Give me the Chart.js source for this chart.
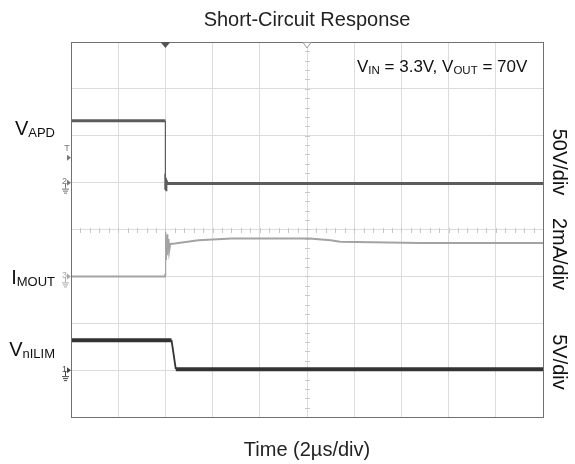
<!DOCTYPE html>
<html>
<head>
<meta charset="utf-8">
<script src="https://cdn.jsdelivr.net/npm/chart.js@4/dist/chart.umd.min.js"></script>
<style>
  html, body { margin: 0; padding: 0; background: #fff; }
  #wrap { width: 575px; height: 464px; position: relative; }
</style>
</head>
<body>
<div id="wrap"><canvas id="c"></canvas></div>
<script>
// Time axis in divisions (2 µs/div), vertical in divisions (0 = bottom, 8 = top)
const vapdX = [0, 2.0, 2.0, 2.01, 2.04, 10];
const vapdY = [6.32, 6.32, 4.85, 5.05, 4.98, 4.98];

const imoutX = [0, 1.99, 2.0, 2.005, 2.02, 2.035, 2.05, 2.065, 2.08, 2.1, 2.2, 2.7, 3.4, 5.05, 5.5, 5.7, 7.4, 10];
const imoutY = [3.0, 3.0, 3.05, 3.95, 3.35, 3.9, 3.45, 3.8, 3.55, 3.69, 3.70, 3.77, 3.81, 3.81, 3.77, 3.74, 3.71, 3.71];

const nilimX = [0, 2.13, 2.22, 10];
const nilimY = [1.64, 1.64, 1.02, 1.02];

// channel reference markers on the left edge (level in divisions)
const markerLabels = ['T', '2', '3', '1'];
const markerLevels = [5.53, 5.0, 3.0, 1.0];
const markerColors = ['#777', '#777', '#aaa', '#444'];

const triggerPos = 2;
const centerPos = 5;

const title = 'Short-Circuit Response';
const xLabel = 'Time (2\u00B5s/div)';
const scaleLabels = ['50V/div', '2mA/div', '5V/div'];

function pts(xs, ys) { return xs.map((x, i) => ({ x: x, y: ys[i] })); }

const FONT = '"Liberation Sans", Arial, sans-serif';

function drawSub(ctx, x, y, main, sub, mainSize, subSize, subDrop) {
  ctx.font = mainSize + 'px ' + FONT;
  ctx.fillText(main, x, y);
  const w = ctx.measureText(main).width;
  ctx.font = subSize + 'px ' + FONT;
  ctx.fillText(sub, x + w, y + subDrop);
  return w + ctx.measureText(sub).width;
}
function subWidth(ctx, main, sub, mainSize, subSize) {
  ctx.font = mainSize + 'px ' + FONT;
  const w = ctx.measureText(main).width;
  ctx.font = subSize + 'px ' + FONT;
  return w + ctx.measureText(sub).width;
}

// thin line on steep (edge) segments, thicker on flat noisy levels
function edgeWidth(thick, thin) {
  return (c) => {
    const dx = Math.abs(c.p1.parsed.x - c.p0.parsed.x);
    const dy = Math.abs(c.p1.parsed.y - c.p0.parsed.y);
    return (dy > 0.3 && dx < 0.1) ? thin : thick;
  };
}

const decor = {
  id: 'decor',
  beforeDatasetsDraw(chart) {
    const ctx = chart.ctx, xs = chart.scales.x, ys = chart.scales.y;
    ctx.save();
    // minor ticks on center lines
    ctx.strokeStyle = '#c8c8c8';
    ctx.lineWidth = 1;
    const cy = Math.round(ys.getPixelForValue(4)), cx = Math.round(xs.getPixelForValue(centerPos));
    for (let v = 0; v <= 10.001; v += 0.2) {
      const px = Math.round(xs.getPixelForValue(v)) + 0.5;
      ctx.beginPath(); ctx.moveTo(px, cy - 2); ctx.lineTo(px, cy + 3); ctx.stroke();
    }
    for (let v = 0; v <= 8.001; v += 0.2) {
      const py = Math.round(ys.getPixelForValue(v)) + 0.5;
      ctx.beginPath(); ctx.moveTo(cx - 2, py); ctx.lineTo(cx + 3, py); ctx.stroke();
    }
    ctx.restore();
  },
  afterDraw(chart) {
    const ctx = chart.ctx, xs = chart.scales.x, ys = chart.scales.y;
    const a = chart.chartArea;
    ctx.save();
    // frame
    ctx.strokeStyle = '#707070'; ctx.lineWidth = 1;
    ctx.strokeRect(Math.round(a.left) + 0.5, Math.round(a.top) + 0.5, Math.round(a.right - a.left), Math.round(a.bottom - a.top));

    // trigger position markers
    const tx = xs.getPixelForValue(triggerPos);
    ctx.fillStyle = '#555';
    ctx.beginPath(); ctx.moveTo(tx - 5, a.top); ctx.lineTo(tx + 5, a.top); ctx.lineTo(tx, a.top + 6); ctx.closePath(); ctx.fill();
    const hx = xs.getPixelForValue(centerPos);
    ctx.fillStyle = '#fff'; ctx.strokeStyle = '#999'; ctx.lineWidth = 1;
    ctx.beginPath(); ctx.moveTo(hx - 4, a.top + 0.5); ctx.lineTo(hx + 4, a.top + 0.5); ctx.lineTo(hx, a.top + 6); ctx.closePath(); ctx.fill(); ctx.stroke();

    // channel markers on left edge
    markerLabels.forEach((lab, i) => {
      const py = ys.getPixelForValue(markerLevels[i]);
      const col = markerColors[i];
      ctx.fillStyle = col; ctx.strokeStyle = col; ctx.lineWidth = 1;
      ctx.beginPath(); ctx.moveTo(a.left - 4, py - 3); ctx.lineTo(a.left, py); ctx.lineTo(a.left - 4, py + 3); ctx.closePath(); ctx.fill();
      ctx.font = '9px ' + FONT; ctx.textAlign = 'right'; ctx.textBaseline = 'middle';
      if (lab === 'T') {
        ctx.textAlign = 'center';
        ctx.fillText(lab, a.left - 4, py - 9);
      } else {
        ctx.fillText(lab, a.left - 4, py - 1);
        // ground symbol
        const gx = a.left - 6;
        ctx.beginPath();
        ctx.moveTo(gx + 0.5, py + 1); ctx.lineTo(gx + 0.5, py + 6);
        ctx.moveTo(gx - 3, py + 6.5); ctx.lineTo(gx + 4, py + 6.5);
        ctx.moveTo(gx - 2, py + 8.5); ctx.lineTo(gx + 3, py + 8.5);
        ctx.moveTo(gx - 1, py + 10.5); ctx.lineTo(gx + 2, py + 10.5);
        ctx.stroke();
      }
    });

    // title and x label
    ctx.fillStyle = '#222';
    ctx.textAlign = 'center'; ctx.textBaseline = 'alphabetic';
    const mid = (a.left + a.right) / 2;
    ctx.font = '20px ' + FONT;
    ctx.fillText(title, mid, 26);
    ctx.fillText(xLabel, mid, 456);

    // trace labels
    ctx.textAlign = 'left';
    ctx.fillStyle = '#111';
    let w = subWidth(ctx, 'V', 'APD', 20, 13);
    drawSub(ctx, 55 - w, 135, 'V', 'APD', 20, 13, 2);
    w = subWidth(ctx, 'I', 'MOUT', 20, 13);
    drawSub(ctx, 55 - w, 284, 'I', 'MOUT', 20, 13, 2);
    w = subWidth(ctx, 'V', 'nILIM', 20, 13);
    drawSub(ctx, 55 - w, 356, 'V', 'nILIM', 20, 13, 2);

    // annotation
    let x0 = 357;
    x0 += drawSub(ctx, x0, 72, 'V', 'IN', 17, 11.5, 2);
    ctx.font = '17px ' + FONT; ctx.fillText(' = 3.3V, ', x0, 72); x0 += ctx.measureText(' = 3.3V, ').width;
    x0 += drawSub(ctx, x0, 72, 'V', 'OUT', 17, 11.5, 2);
    ctx.font = '17px ' + FONT; ctx.fillText(' = 70V', x0, 72);

    // right rotated scale labels
    const centersY = [162, 254, 362];
    ctx.font = '20px ' + FONT; ctx.textAlign = 'center'; ctx.textBaseline = 'middle';
    scaleLabels.forEach((t, i) => {
      ctx.save();
      ctx.translate(559, centersY[i]);
      ctx.rotate(Math.PI / 2);
      ctx.fillText(t, 0, 0);
      ctx.restore();
    });
    ctx.restore();
  }
};

new Chart(document.getElementById('c'), {
  type: 'scatter',
  data: {
    datasets: [
      { label: 'VAPD', data: pts(vapdX, vapdY), showLine: true, borderColor: '#5c5c5c', borderWidth: 3, pointRadius: 0, tension: 0,
        segment: { borderWidth: edgeWidth(3, 1.2) } },
      { label: 'IMOUT', data: pts(imoutX, imoutY), showLine: true, borderColor: '#a3a3a3', borderWidth: 2, pointRadius: 0, tension: 0,
        segment: { borderWidth: edgeWidth(2, 1.2) } },
      { label: 'VnILIM', data: pts(nilimX, nilimY), showLine: true, borderColor: '#333', borderWidth: 4, pointRadius: 0, tension: 0,
        segment: { borderWidth: edgeWidth(4, 1.8) } }
    ]
  },
  options: {
    responsive: true,
    maintainAspectRatio: false,
    animation: false,
    devicePixelRatio: 1,
    layout: { padding: { left: 71, right: 32, top: 42, bottom: 47 } },
    plugins: { legend: { display: false }, tooltip: { enabled: false }, title: { display: false } },
    scales: {
      x: {
        type: 'linear', min: 0, max: 10,
        ticks: { display: false, stepSize: 1 },
        grid: { color: '#dcdcdc', lineWidth: 1, drawTicks: false },
        border: { display: true, color: '#707070', width: 1 }
      },
      y: {
        type: 'linear', min: 0, max: 8,
        ticks: { display: false, stepSize: 1 },
        grid: { color: '#dcdcdc', lineWidth: 1, drawTicks: false },
        border: { display: true, color: '#707070', width: 1 }
      }
    }
  },
  plugins: [decor]
});
</script>
</body>
</html>
